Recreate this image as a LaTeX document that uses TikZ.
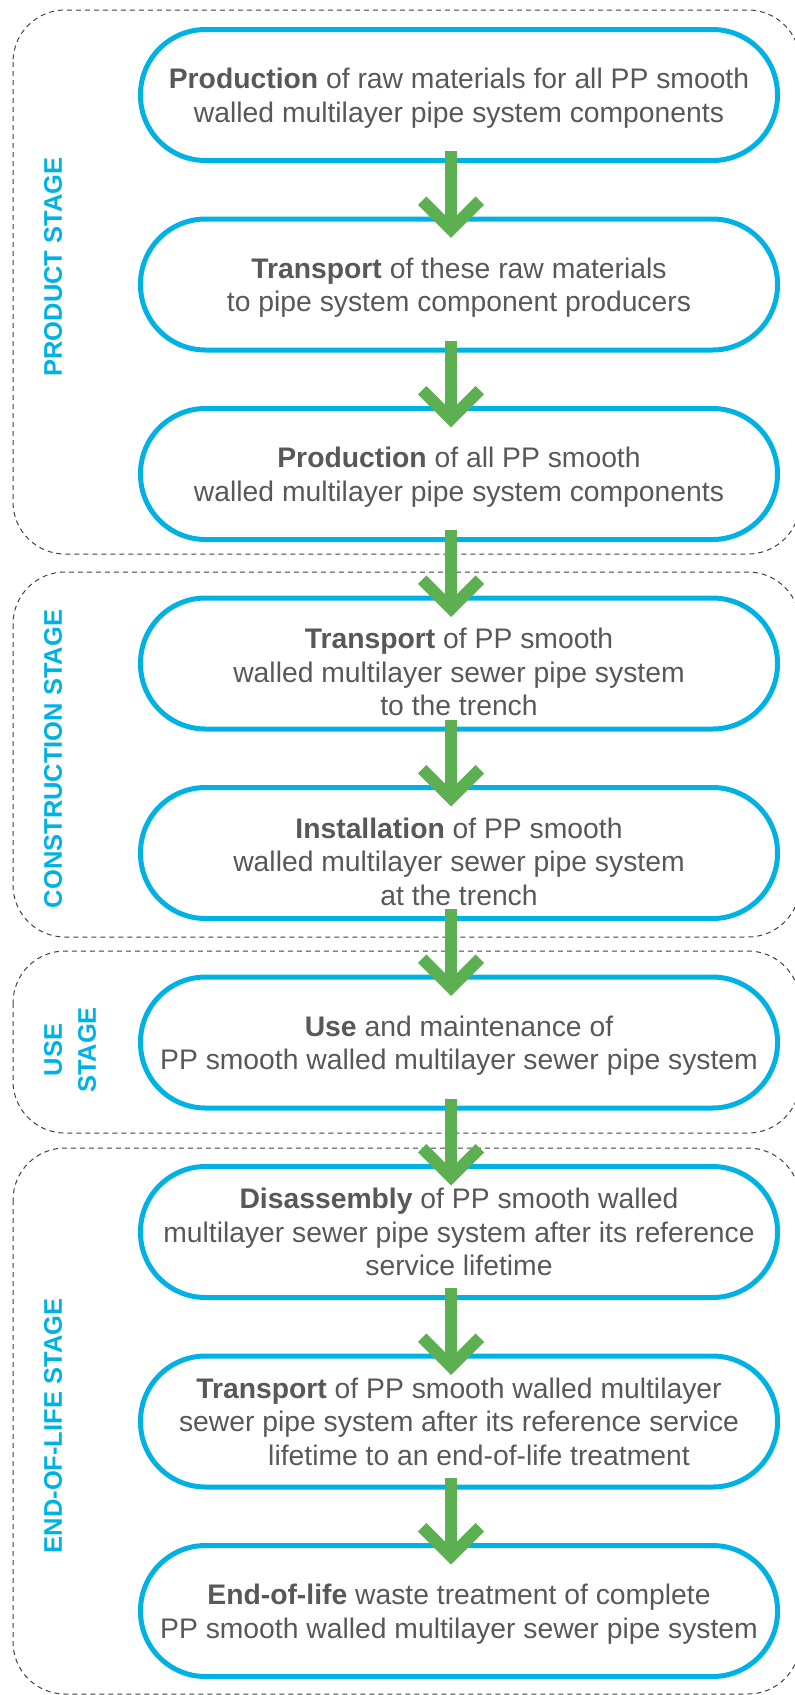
\documentclass[tikz,border=0pt]{standalone}
\usepackage{fontspec}
\setmainfont{Liberation Sans}
\usepackage{tikz}
\usetikzlibrary{calc}
\definecolor{pipeblue}{RGB}{0,178,228}
\definecolor{flowgreen}{RGB}{92,176,82}
\definecolor{textgray}{RGB}{88,88,88}
\tikzset{
  box/.style={draw=pipeblue, line width=5pt, rounded corners=65pt, minimum width=637pt, minimum height=131pt, inner sep=0pt, outer sep=0pt, align=center, text=textgray, text depth=0pt, font=\fontsize{28.3}{33.5}\selectfont},
  stageframe/.style={draw=black!75, line width=1pt, dash pattern=on 5pt off 4pt, rounded corners=52pt},
  stagelabel/.style={rotate=90, text=pipeblue, align=center, font=\fontsize{25.5}{34}\selectfont\bfseries},
  arrowline/.style={draw=flowgreen, line width=12pt}
}
\def\lowstrut{\rule{0pt}{37pt}}
\def\flowarrow(#1)(#2){%
  \draw[arrowline] ($(#1.south)+(-8,-9.5)$) -- ($(#2.north)+(-8,10.5)$);
  \draw[arrowline, line join=miter] ($(#2.north)+(-36.8,-18.3)$) -- ($(#2.north)+(-8,10.5)$) -- ($(#2.north)+(20.8,-18.3)$);
}

\begin{document}
\begin{tikzpicture}[x=1pt, y=-1pt]
			%%%%% START %%%%%
			\useasboundingbox (0, 0) rectangle (795, 1695);
			\clip (0, 0) rectangle (795, 1695);
			
			\draw[stageframe] (13, 10) rectangle (800, 554);
			\draw[stageframe] (13, 572) rectangle (800, 937);
			\draw[stageframe] (13, 951) rectangle (800, 1133);
			\draw[stageframe] (13, 1148) rectangle (800, 1694);
			
			\node[stagelabel] (product) at (53, 267) {PRODUCT STAGE};
			\node[stagelabel] (construction) at (53, 759) {CONSTRUCTION STAGE};
			\node[stagelabel] (use) at (70, 1050) {USE\\STAGE};
			\node[stagelabel] (endoflife) at (53, 1426) {END-OF-LIFE STAGE};
			
			\node[box] (rawprod) at (459, 95) {\textbf{Production} of raw materials for all PP smooth\\walled multilayer pipe system components};
			\node[box] (rawtrans) at (459, 284.5) {\textbf{Transport} of these raw materials\\to pipe system component producers};
			\node[box] (compprod) at (459, 474) {\textbf{Production} of all PP smooth\\walled multilayer pipe system components};
			
			\node[box] (systrans) at (459, 663.5) {\lowstrut\textbf{Transport} of PP smooth\\walled multilayer sewer pipe system\\to the trench};
			\node[box] (install) at (459, 853) {\lowstrut\textbf{Installation} of PP smooth\\walled multilayer sewer pipe system\\at the trench};
			
			\node[box] (usemaint) at (459, 1042.5) {\textbf{Use} and maintenance of\\PP smooth walled multilayer sewer pipe system};
			
			\node[box] (disasm) at (459, 1232) {\textbf{Disassembly} of PP smooth walled\\multilayer sewer pipe system after its reference\\service lifetime};
			\node[box] (eoltrans) at (459, 1421.5) {\textbf{Transport} of PP smooth walled multilayer\\sewer pipe system after its reference service\hspace*{42pt}\\\hspace*{40pt}lifetime to an end-of-life treatment};
			\node[box] (eoltreat) at (459, 1611) {\textbf{End-of-life} waste treatment of complete\\PP smooth walled multilayer sewer pipe system};
			
			\flowarrow(rawprod)(rawtrans)
			\flowarrow(rawtrans)(compprod)
			\flowarrow(compprod)(systrans)
			\flowarrow(systrans)(install)
			\flowarrow(install)(usemaint)
			\flowarrow(usemaint)(disasm)
			\flowarrow(disasm)(eoltrans)
			\flowarrow(eoltrans)(eoltreat)
			
			%%%%% END %%%%%
\end{tikzpicture}
\end{document}
